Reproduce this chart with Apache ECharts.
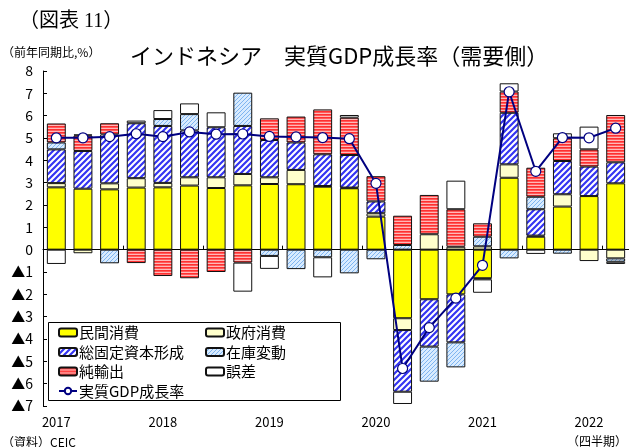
<!DOCTYPE html>
<html><head><meta charset="utf-8">
<script src="https://cdn.jsdelivr.net/npm/echarts@6/dist/echarts.min.js"></script>
<style>html,body{margin:0;padding:0;background:#fff}#c{width:629px;height:447px}</style>
</head><body><div id="c"></div>
<script>
// ---- data ----
const quarters = ['2017Q1','2017Q2','2017Q3','2017Q4','2018Q1','2018Q2','2018Q3','2018Q4',
  '2019Q1','2019Q2','2019Q3','2019Q4','2020Q1','2020Q2','2020Q3','2020Q4',
  '2021Q1','2021Q2','2021Q3','2021Q4','2022Q1','2022Q2'];
const yearLabels = ['2017','','','','2018','','','','2019','','','','2020','','','','2021','','','','2022',''];
const seriesNames = ['民間消費','政府消費','総固定資本形成','在庫変動','純輸出','誤差','実質GDP成長率'];
const privateCons = [2.79,2.73,2.70,2.78,2.79,2.87,2.76,2.88,2.94,2.93,2.82,2.75,1.48,-3.07,-2.22,-2.00,-1.28,3.22,0.58,1.93,2.40,2.97];
const govCons     = [0.19,-0.16,0.27,0.42,0.20,0.37,0.48,0.51,0.30,0.64,0.03,0.03,0.15,-0.53,0.69,0.13,0.15,0.60,0.05,0.55,-0.51,-0.39];
const gfcf        = [1.51,1.69,2.19,2.46,2.55,2.10,2.24,2.15,1.67,1.23,1.42,1.46,0.53,-2.76,-2.12,-2.15,-0.05,2.31,1.18,1.49,1.32,0.94];
const inventory   = [0.31,0,-0.61,0,0.31,0.73,0,1.49,-0.28,-0.87,-0.34,-1.06,-0.43,0.21,-1.57,-1.12,0.43,-0.39,0.56,-0.18,0,-0.15];
const netExports  = [0.85,0.69,0.50,-0.60,-1.18,-1.28,-1.00,-0.58,0.97,1.16,2.01,1.67,1.13,1.31,1.76,1.68,0.60,0.95,1.30,1.02,0.77,2.12];
const discrepancy = [-0.64,0.05,0,0.12,0.40,0.48,0.67,-1.30,-0.58,0,-0.90,0.12,0,-0.55,0,1.28,-0.60,0.37,-0.19,0.22,1.02,-0.10];
const gdpGrowth   = [5.01,5.01,5.06,5.19,5.06,5.27,5.17,5.18,5.07,5.05,5.02,4.97,2.97,-5.32,-3.49,-2.17,-0.70,7.07,3.51,5.02,5.01,5.44];
const yMin = -7, yMax = 8, yStep = 1;

// ---- patterns ----
function diag(size, lw, color, bg) {
  const c = document.createElement('canvas'); c.width = size; c.height = size;
  const g = c.getContext('2d');
  g.fillStyle = bg; g.fillRect(0,0,size,size);
  g.strokeStyle = color; g.lineWidth = lw;
  g.beginPath();
  g.moveTo(-1, size+1); g.lineTo(size+1, -1);
  g.moveTo(-1, 1); g.lineTo(1, -1);
  g.moveTo(size-1, size+1); g.lineTo(size+1, size-1);
  g.stroke();
  return {image: c, repeat: 'repeat'};
}
function hstripe() {
  const c = document.createElement('canvas'); c.width = 4; c.height = 3;
  const g = c.getContext('2d');
  g.fillStyle = '#FF3030'; g.fillRect(0,0,4,1);
  g.fillStyle = '#FF5A5A'; g.fillRect(0,1,4,1);
  g.fillStyle = '#FFB8B8'; g.fillRect(0,2,4,1);
  return {image: c, repeat: 'repeat'};
}
const fills = ['#FFFF00', '#FFFFCC', diag(6, 2.2, '#3434F2', '#FFFFFF'), diag(4, 1, '#7FB5F0', '#D8EBFF'), hstripe(), '#FFFFFF'];
const barData = [privateCons, govCons, gfcf, inventory, netExports, discrepancy];

const font = "'Noto Sans CJK JP', sans-serif";
const series = barData.map((arr, i) => ({
  name: seriesNames[i], type: 'bar', stack: 'total', xAxisIndex: 0, yAxisIndex: 0,
  barCategoryGap: '29%',
  itemStyle: {color: fills[i], borderColor: '#111', borderWidth: 1},
  data: arr.map(v => v === 0 ? '-' : v)
}));
series.push({
  name: seriesNames[6], type: 'line', xAxisIndex: 0, yAxisIndex: 0, z: 5,
  symbol: 'circle', symbolSize: 10, showSymbol: true,
  lineStyle: {color: '#000080', width: 2},
  itemStyle: {color: '#FFFFFF', borderColor: '#000080', borderWidth: 1.2},
  data: gdpGrowth
});

const chart = echarts.init(document.getElementById('c'), null, {renderer: 'canvas'});
chart.setOption({
  animation: false,
  backgroundColor: '#fff',
  textStyle: {fontFamily: font},
  title: [
    {text: '（図表 11）', left: 19, top: 12, padding: 0, textStyle: {fontFamily: "'Liberation Serif', 'Noto Sans CJK JP', serif", fontSize: 20, fontWeight: 'normal', color: '#000'}},
    {text: 'インドネシア　実質GDP成長率（需要側）', left: 130, top: 45, padding: 0, textStyle: {fontFamily: font, fontSize: 22, fontWeight: 'normal', color: '#000'}},
    {text: '（前年同期比,%）', left: 2, top: 46, padding: 0, textStyle: {fontFamily: font, fontSize: 12, fontWeight: 'normal', color: '#000'}},
    {text: '（資料）CEIC', left: 2, top: 436, padding: 0, textStyle: {fontFamily: font, fontSize: 12, fontWeight: 'normal', color: '#000'}},
    {text: '（四半期）', right: 2, top: 435, padding: 0, textStyle: {fontFamily: font, fontSize: 12, fontWeight: 'normal', color: '#000'}}
  ],
  graphic: [{type: 'rect', left: 48, top: 322, shape: {width: 292, height: 78}, style: {fill: '#fff', stroke: '#000', lineWidth: 1}, z: 10}],
  legend: [
    {data: [seriesNames[0], seriesNames[2], seriesNames[4], seriesNames[6]], orient: 'vertical', left: 58, top: 325, padding: 0,
     itemWidth: 18, itemHeight: 8, itemGap: 4.5, z: 20, textStyle: {fontFamily: font, fontSize: 15, color: '#000', padding: [0,0,0,-3]}},
    {data: [seriesNames[1], seriesNames[3], seriesNames[5]], orient: 'vertical', left: 205, top: 325, padding: 0,
     itemWidth: 18, itemHeight: 8, itemGap: 4.5, z: 20, textStyle: {fontFamily: font, fontSize: 15, color: '#000', padding: [0,0,0,-3]}}
  ],
  grid: {left: 43, right: 0, top: 71, bottom: 41, containLabel: false},
  xAxis: [
    {type: 'category', data: quarters, position: 'bottom',
     axisLine: {onZero: true, lineStyle: {color: '#000', width: 1}},
     axisTick: {show: true, inside: true, length: 4, lineStyle: {color: '#000'}},
     axisLabel: {show: false}, splitLine: {show: false}},
    {type: 'category', data: yearLabels, position: 'bottom',
     axisLine: {show: false, onZero: false}, axisTick: {show: false},
     axisLabel: {interval: 0, margin: 10, fontSize: 13, color: '#000', fontFamily: font}, splitLine: {show: false}}
  ],
  yAxis: {type: 'value', min: yMin, max: yMax, interval: yStep,
    axisLine: {show: true, lineStyle: {color: '#000', width: 1}},
    axisTick: {show: true, inside: true, length: 4, lineStyle: {color: '#000'}},
    splitLine: {show: false},
    axisLabel: {margin: 10, fontSize: 14, color: '#000', fontFamily: font,
      formatter: v => v < 0 ? '▲' + (-v) : String(v)}},
  series: series
});
</script>
</body></html>
